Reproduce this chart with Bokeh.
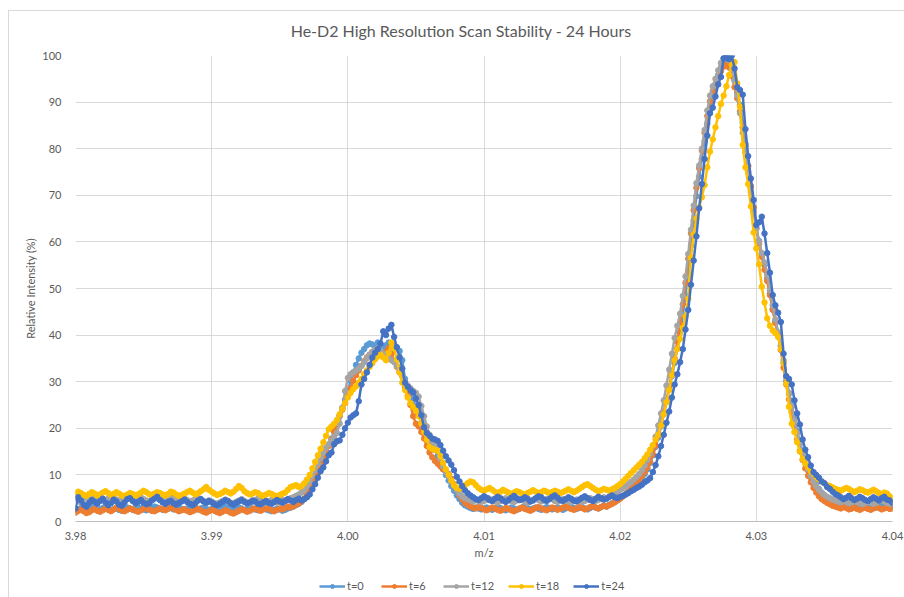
from bokeh.plotting import figure
from bokeh.layouts import column
from bokeh.models import (ColumnDataSource, FixedTicker, NumeralTickFormatter,
                          Legend, LegendItem, Range1d, Label)
from bokeh.embed import file_html
from bokeh.resources import INLINE

# m/z scan grid: 3.98 .. 4.04, step 0.0002
mz_start = 3.98
mz_step = 0.0002
n_points = 301
mz = [round(mz_start + mz_step * i, 4) for i in range(n_points)]

t0 = [
    2.4, 2.6, 2.9, 2.5, 2.3, 2.7, 3.0, 2.8, 2.5, 2.6,
    2.9, 3.1, 2.7, 2.4, 2.6, 2.8, 2.5, 2.3, 2.6, 3.0,
    2.8, 2.5, 2.7, 3.0, 2.9, 2.6, 2.4, 2.7, 2.9, 3.2,
    3.0, 2.7, 2.5, 2.8, 3.1, 2.9, 2.6, 2.8, 3.0, 2.7,
    2.5, 2.8, 3.1, 3.3, 2.9, 2.6, 2.8, 3.0, 2.7, 2.5,
    2.7, 3.0, 2.8, 2.6, 2.9, 3.2, 3.0, 2.7, 2.5, 2.8,
    3.0, 2.8, 2.5, 2.7, 3.0, 2.8, 2.6, 2.4, 2.7, 2.9,
    2.6, 2.4, 2.2, 2.5, 2.8, 2.6, 2.3, 2.5, 2.8, 3.0,
    3.2, 3.5, 3.8, 4.2, 4.8, 5.6, 6.8, 8.2, 9.6, 10.8,
    12.2, 13.6, 15.0, 16.4, 17.8, 19.2, 21.0, 22.8, 24.4, 26.2,
    28.0, 30.2, 32.0, 33.6, 35.0, 36.2, 37.0, 37.8, 38.2, 38.0,
    37.6, 38.4, 38.0, 37.2, 37.8, 38.4, 38.2, 37.6, 37.0, 36.6,
    34.6, 30.6, 29.0, 27.6, 26.0, 24.6, 23.2, 21.2, 19.6, 18.2,
    17.0, 16.2, 15.4, 14.0, 12.6, 11.2, 10.0, 8.8, 7.6, 6.6,
    5.6, 4.8, 4.0, 3.5, 3.2, 2.9, 2.7, 3.0, 2.8, 2.6,
    2.8, 3.0, 2.7, 2.5, 2.8, 3.1, 2.9, 2.6, 2.4, 2.7,
    3.0, 2.8, 2.5, 2.7, 3.0, 3.2, 2.9, 2.6, 2.8, 3.0,
    2.7, 2.5, 2.8, 3.1, 2.9, 2.6, 2.8, 3.0, 2.7, 2.5,
    2.8, 3.0, 3.2, 2.9, 2.7, 2.9, 3.1, 2.8, 2.6, 2.9,
    3.2, 3.0, 2.8, 3.1, 3.4, 3.2, 3.6, 3.9, 4.2, 4.6,
    5.0, 5.4, 5.9, 6.4, 6.9, 7.4, 8.0, 8.6, 9.4, 10.2,
    11.2, 12.6, 14.2, 16.0, 18.0, 20.4, 23.0, 25.6, 28.4, 31.2,
    34.0, 37.2, 40.6, 44.2, 48.6, 53.8, 59.2, 64.6, 69.8, 74.0,
    77.8, 81.6, 85.4, 88.4, 91.0, 93.6, 95.8, 97.4, 98.6, 99.4,
    98.8, 97.0, 94.8, 92.0, 89.4, 85.6, 81.0, 76.4, 72.0, 67.4,
    63.0, 60.2, 57.4, 55.0, 52.2, 49.0, 45.6, 43.0, 40.4, 37.6,
    34.0, 30.2, 27.4, 24.8, 22.0, 19.4, 17.0, 15.0, 13.2, 11.6,
    10.2, 9.0, 8.0, 7.0, 6.2, 5.4, 4.8, 4.3, 3.9, 3.6,
    3.4, 3.2, 3.5, 3.3, 3.0, 2.8, 3.1, 3.4, 3.2, 2.9,
    3.1, 3.4, 3.6, 3.3, 3.0, 3.2, 3.5, 3.3, 3.0, 2.8,
    3.2,
]

t6 = [
    1.9, 2.3, 2.6, 2.2, 1.8, 2.0, 2.4, 2.7, 2.3, 2.1,
    2.4, 2.8, 2.5, 2.2, 2.6, 3.0, 2.7, 2.4, 2.2, 2.5,
    2.8, 2.6, 2.3, 2.1, 2.4, 2.7, 2.9, 2.6, 2.3, 2.2,
    2.5, 2.8, 2.6, 2.4, 2.7, 3.0, 2.8, 2.5, 2.2, 2.4,
    2.6, 2.3, 2.0, 2.2, 2.5, 2.7, 2.4, 2.1, 1.9, 2.2,
    2.5, 2.3, 2.0, 1.8, 2.1, 2.4, 2.2, 1.9, 1.7, 2.0,
    2.3, 2.6, 2.4, 2.1, 2.3, 2.6, 2.8, 2.5, 2.3, 2.6,
    2.9, 2.7, 2.4, 2.2, 2.5, 2.8, 2.6, 2.9, 3.2, 3.0,
    3.3, 3.6, 3.9, 4.3, 4.9, 5.7, 6.6, 7.8, 9.0, 10.4,
    11.6, 13.0, 14.4, 16.2, 17.6, 19.4, 21.0, 22.6, 24.0, 25.4,
    27.0, 28.6, 30.2, 31.4, 32.4, 33.4, 34.4, 35.2, 35.8, 36.4,
    36.8, 37.0, 36.2, 35.6, 36.4, 37.2, 36.0, 34.4, 33.2, 32.0,
    31.2, 28.8, 27.0, 25.0, 22.6, 21.0, 20.4, 19.2, 17.8, 16.2,
    14.8, 13.8, 13.0, 12.4, 11.8, 11.2, 10.6, 10.2, 9.2, 8.0,
    6.8, 5.6, 4.8, 4.0, 3.6, 3.2, 3.0, 2.8, 3.1, 2.9,
    2.6, 2.4, 2.7, 3.0, 2.8, 2.5, 2.3, 2.6, 2.9, 2.7,
    2.4, 2.2, 2.5, 2.8, 3.0, 2.7, 2.5, 2.3, 2.6, 2.9,
    3.1, 2.8, 2.6, 2.4, 2.7, 3.0, 2.8, 2.5, 2.7, 3.0,
    3.2, 2.9, 2.7, 2.5, 2.8, 3.1, 2.9, 2.6, 2.8, 3.1,
    3.3, 3.0, 2.8, 3.1, 3.4, 3.2, 3.5, 3.8, 4.1, 4.5,
    4.9, 5.4, 5.8, 6.4, 7.0, 7.6, 8.2, 9.0, 9.8, 10.6,
    11.6, 12.8, 14.4, 16.2, 18.4, 20.8, 23.4, 26.0, 28.8, 31.8,
    35.0, 38.6, 42.4, 46.6, 51.2, 56.4, 61.8, 66.8, 71.6, 75.8,
    79.6, 83.4, 87.0, 90.2, 92.4, 93.8, 95.4, 96.6, 97.6, 98.0,
    97.4, 95.6, 93.2, 90.8, 88.0, 84.6, 80.6, 76.2, 71.8, 67.4,
    62.8, 59.6, 56.8, 54.0, 51.6, 48.6, 45.4, 42.6, 40.0, 36.8,
    33.0, 29.4, 26.2, 23.4, 20.4, 17.6, 15.2, 13.2, 11.4, 9.8,
    8.4, 7.2, 6.2, 5.4, 4.8, 4.4, 4.0, 3.7, 3.4, 3.2,
    3.0, 2.8, 3.1, 2.9, 2.6, 2.8, 3.0, 2.7, 2.5, 2.8,
    3.0, 2.7, 2.5, 2.8, 3.1, 2.9, 2.6, 2.8, 3.0, 2.7,
    2.8,
]

t12 = [
    5.2, 4.6, 4.0, 4.8, 5.4, 5.0, 4.6, 5.1, 5.5, 5.2,
    4.8, 4.5, 4.9, 5.3, 5.0, 4.7, 4.4, 4.8, 5.2, 5.5,
    5.1, 4.7, 4.5, 4.9, 5.2, 4.8, 4.5, 4.3, 4.7, 5.0,
    5.4, 5.1, 4.7, 4.4, 4.6, 5.0, 5.3, 4.9, 4.5, 4.7,
    5.0, 4.6, 4.3, 4.5, 4.8, 5.1, 4.8, 4.4, 4.2, 4.5,
    4.3, 4.0, 3.8, 4.1, 4.4, 4.7, 4.3, 4.0, 3.9, 4.2,
    4.5, 4.8, 4.4, 4.1, 3.9, 4.2, 4.6, 4.9, 4.5, 4.2,
    4.0, 4.3, 4.6, 4.4, 4.1, 4.3, 4.7, 4.5, 4.8, 5.0,
    5.2, 5.5, 5.8, 6.2, 6.8, 7.6, 8.6, 9.8, 11.0, 12.4,
    13.6, 14.8, 15.8, 16.6, 17.4, 18.2, 19.0, 21.0, 24.4, 28.0,
    30.8, 31.6, 32.0, 32.4, 32.8, 33.4, 34.2, 35.0, 35.8, 36.4,
    36.8, 37.2, 36.6, 36.0, 35.4, 35.0, 34.6, 34.2, 33.4, 32.4,
    31.2, 30.0, 29.2, 28.6, 28.0, 27.6, 26.8, 24.8, 22.6, 20.4,
    18.6, 17.2, 16.2, 15.0, 13.4, 11.8, 10.6, 9.6, 8.6, 7.6,
    6.8, 6.0, 5.4, 5.0, 4.8, 4.5, 4.3, 4.6, 4.4, 4.2,
    4.4, 4.7, 4.9, 4.6, 4.3, 4.1, 4.4, 4.8, 5.0, 4.7,
    4.4, 4.2, 4.5, 4.8, 4.6, 4.3, 4.0, 4.3, 4.7, 4.9,
    4.6, 4.3, 4.5, 4.8, 5.1, 4.8, 4.4, 4.2, 4.5, 4.8,
    4.6, 4.3, 4.1, 4.4, 4.7, 4.5, 4.2, 4.4, 4.8, 5.0,
    4.7, 4.4, 4.6, 4.9, 5.2, 5.0, 5.3, 5.7, 6.0, 6.4,
    6.8, 7.2, 7.6, 8.0, 8.5, 9.0, 9.6, 10.2, 11.0, 12.0,
    13.2, 14.6, 16.2, 18.2, 20.6, 23.2, 26.0, 29.2, 32.6, 36.0,
    39.4, 42.0, 44.6, 48.4, 52.6, 57.4, 62.6, 67.8, 72.6, 76.4,
    80.0, 84.0, 88.2, 91.4, 93.4, 95.0, 96.8, 98.4, 99.4, 100.0,
    99.0, 97.2, 94.6, 91.4, 87.6, 83.4, 79.2, 75.0, 70.6, 66.6,
    62.8, 60.0, 57.6, 55.6, 53.0, 49.6, 46.4, 43.4, 40.6, 37.8,
    34.6, 31.0, 27.6, 24.6, 21.6, 19.0, 16.6, 14.6, 12.8, 11.2,
    9.8, 8.6, 7.6, 6.8, 6.2, 5.7, 5.3, 5.0, 4.7, 4.5,
    4.3, 4.1, 4.4, 4.2, 3.9, 4.1, 4.4, 4.2, 3.9, 3.7,
    4.0, 4.3, 4.1, 3.8, 4.0, 4.4, 4.6, 4.3, 4.0, 3.8,
    4.2,
]

t18 = [
    6.0, 6.4, 6.1, 5.7, 5.5, 5.9, 6.3, 6.0, 5.6, 5.8,
    6.2, 6.5, 6.1, 5.7, 5.9, 6.3, 6.0, 5.6, 5.4, 5.8,
    6.1, 5.9, 5.5, 5.8, 6.2, 6.6, 6.3, 5.9, 5.6, 6.0,
    6.3, 6.1, 5.8, 5.6, 5.9, 6.4, 6.2, 5.8, 5.5, 5.7,
    6.0, 6.3, 6.6, 6.2, 5.8, 6.1, 6.5, 6.9, 7.4, 6.8,
    6.4, 6.0, 5.7, 5.9, 6.2, 6.6, 6.3, 6.0, 6.4, 7.0,
    7.6, 7.2, 6.5, 6.1, 5.8, 6.0, 6.3, 6.1, 5.7, 5.5,
    5.8, 6.1, 5.9, 5.6, 5.4, 5.7, 6.0, 6.2, 6.8, 7.4,
    7.6, 7.8, 7.4, 7.6, 8.2, 9.0, 10.0, 11.4, 12.8, 14.2,
    15.6, 17.0, 18.4, 19.8, 20.4, 21.0, 21.8, 23.0, 24.2, 25.4,
    26.6, 27.6, 28.4, 29.0, 29.8, 30.6, 31.6, 32.4, 33.2, 34.0,
    34.8, 35.4, 35.8, 35.2, 34.6, 36.2, 38.4, 37.2, 34.8, 32.0,
    29.8, 28.2, 26.6, 25.4, 24.6, 23.8, 22.6, 21.0, 19.2, 17.6,
    16.0, 15.6, 15.4, 15.2, 14.0, 12.6, 11.2, 10.0, 8.8, 7.8,
    7.2, 7.0, 7.4, 7.8, 8.2, 8.6, 8.4, 7.8, 7.2, 6.8,
    6.6, 6.9, 7.2, 6.8, 6.4, 6.1, 6.4, 6.8, 6.5, 6.2,
    5.9, 6.2, 6.5, 6.3, 6.0, 5.8, 6.1, 6.4, 6.7, 6.4,
    6.1, 6.3, 6.6, 6.4, 6.1, 6.3, 6.6, 6.4, 6.1, 6.3,
    6.6, 6.9, 6.6, 6.3, 6.6, 7.0, 7.4, 7.8, 8.0, 7.6,
    7.2, 6.8, 6.5, 6.7, 7.0, 6.8, 6.6, 6.9, 7.2, 7.6,
    8.0, 8.6, 9.2, 9.8, 10.4, 11.0, 11.6, 12.2, 12.8, 13.6,
    14.4, 15.4, 16.4, 17.6, 18.6, 20.6, 23.0, 25.6, 28.2, 31.4,
    34.6, 37.0, 39.2, 41.6, 44.0, 47.8, 56.6, 61.6, 65.0, 67.4,
    69.6, 72.2, 76.0, 79.4, 82.0, 84.6, 87.0, 89.6, 91.4, 93.4,
    95.8, 98.0, 98.6, 94.0, 89.0, 80.8, 76.0, 72.4, 67.6, 62.0,
    58.6, 55.2, 50.4, 47.0, 43.6, 42.0, 41.0, 40.4, 39.6, 37.0,
    34.0, 29.6, 24.6, 21.0, 19.2, 17.0, 15.0, 13.4, 12.4, 11.6,
    10.8, 10.2, 9.6, 9.0, 8.6, 8.2, 7.8, 7.6, 7.3, 7.0,
    6.8, 6.6, 6.9, 7.2, 7.0, 6.6, 6.3, 6.6, 6.9, 6.7,
    6.4, 6.2, 6.5, 6.8, 6.5, 6.1, 5.9, 6.2, 6.0, 5.4,
    5.0,
]

t24 = [
    2.8, 5.2, 4.5, 3.6, 3.2, 4.0, 4.6, 4.2, 3.8, 4.4,
    4.9, 4.1, 3.5, 3.9, 4.7, 4.3, 3.6, 3.4, 4.1, 4.8,
    5.0, 4.4, 3.9, 4.2, 4.6, 4.0, 3.7, 3.9, 4.5, 4.9,
    5.3, 4.6, 4.1, 3.8, 4.2, 4.4, 3.9, 3.6, 4.0, 4.3,
    4.7, 4.2, 3.8, 3.5, 3.9, 4.5, 4.8, 4.3, 4.0, 4.4,
    4.1, 3.7, 3.5, 3.8, 4.2, 4.6, 4.4, 3.9, 3.6, 4.0,
    4.3, 4.6, 4.2, 3.9, 4.1, 4.5, 4.3, 3.8, 3.7, 4.1,
    4.4, 4.0, 3.8, 4.2, 4.6, 4.3, 4.0, 4.4, 4.8, 4.5,
    4.2, 4.6, 4.9, 4.5, 4.8, 5.2, 5.8, 6.9, 8.0, 9.4,
    10.8, 11.6, 12.9, 14.2, 14.8, 16.6, 17.2, 17.4, 18.6, 20.0,
    21.2, 22.3, 22.8, 23.2, 25.8, 29.4, 30.6, 32.0, 33.6, 35.2,
    36.2, 37.0, 38.2, 40.8, 40.0, 41.4, 42.2, 39.6, 37.4, 35.2,
    32.8, 29.8, 28.9, 28.2, 27.7, 26.4, 25.0, 22.8, 20.2, 19.0,
    18.4, 17.8, 17.6, 17.3, 16.4, 15.2, 14.0, 13.1, 12.2, 11.0,
    9.6, 8.6, 7.6, 6.7, 6.1, 5.6, 5.2, 4.8, 4.6, 5.0,
    5.4, 5.1, 4.6, 4.4, 4.9, 5.3, 5.0, 4.5, 4.2, 4.6,
    5.1, 5.5, 5.0, 4.6, 4.8, 5.2, 4.9, 4.3, 4.5, 5.0,
    5.4, 5.2, 4.7, 4.4, 4.8, 5.3, 5.6, 5.1, 4.6, 4.4,
    4.8, 5.2, 4.9, 4.5, 4.3, 4.7, 5.1, 5.4, 5.0, 4.6,
    4.4, 4.9, 5.3, 5.0, 4.7, 4.9, 5.3, 5.6, 5.2, 5.0,
    5.3, 5.5, 5.8, 6.1, 6.5, 6.8, 7.2, 7.5, 7.9, 8.4,
    8.8, 9.3, 10.6, 12.1, 14.0, 16.2, 18.6, 21.2, 23.6, 26.6,
    29.4, 31.6, 34.2, 37.0, 41.2, 45.4, 50.8, 56.0, 61.2, 67.2,
    72.4, 77.8, 82.8, 87.6, 88.8, 91.2, 93.8, 95.4, 99.4, 100.0,
    99.2, 100.0, 97.2, 93.2, 92.6, 91.6, 84.2, 78.4, 73.6, 69.0,
    63.6, 64.2, 65.4, 61.8, 57.6, 53.4, 48.6, 46.4, 44.8, 42.8,
    36.0, 31.2, 30.6, 29.4, 26.0, 23.2, 20.8, 17.6, 15.4, 13.8,
    12.0, 10.6, 10.0, 9.4, 8.6, 8.2, 7.4, 7.0, 6.4, 5.9,
    5.6, 5.2, 4.8, 5.1, 5.5, 5.0, 4.6, 4.9, 5.3, 5.0,
    4.6, 4.4, 4.8, 5.2, 4.9, 4.5, 5.0, 5.3, 4.7, 4.5,
    4.0,
]

chart_title = "He-D2 High Resolution Scan Stability - 24 Hours"
series_names = ["t=0", "t=6", "t=12", "t=18", "t=24"]
series_values = [t0, t6, t12, t18, t24]
series_colors = ["#5B9BD5", "#ED7D31", "#A5A5A5", "#FFC000", "#4472C4"]
x_ticks = [3.98, 3.99, 4.00, 4.01, 4.02, 4.03, 4.04]
y_ticks = [0, 10, 20, 30, 40, 50, 60, 70, 80, 90, 100]

for s in series_values:
    assert len(s) == n_points, len(s)

FONT = "Lato"
GREY = "#595959"
LINE_W = 2.5
MARK_SIZE = 5.5
W = 896

# ---- title strip (its frame is aligned with the chart frame) ----------
tt = figure(width=W, height=37, output_backend="svg", toolbar_location=None,
            x_range=Range1d(0, 1), y_range=Range1d(0, 1),
            x_axis_location=None, y_axis_location=None,
            min_border_left=0, min_border_right=0, min_border_top=0,
            min_border_bottom=0)
tt.margin = (10, 0, 0, 8)
tt.styles = {"border-left": "1px solid #D9D9D9", "border-top": "1px solid #D9D9D9"}
tt.outline_line_color = None
tt.grid.visible = False
tt.add_layout(Label(x=0.472, y=0.48, text=chart_title, text_align="center",
                    text_baseline="middle", text_font=FONT,
                    text_font_size="16px", text_color=GREY))

# ---- main chart --------------------------------------------------------
p = figure(width=W, height=524, output_backend="svg", toolbar_location=None,
           x_range=Range1d(3.98, 4.04), y_range=Range1d(0, 100),
           min_border_left=66, min_border_right=13, min_border_top=8,
           min_border_bottom=50)
p.margin = (0, 0, 0, 8)
p.styles = {"border-left": "1px solid #D9D9D9"}
p.outline_line_color = None
p.background_fill_color = "white"
p.border_fill_color = "white"

sources = []
for name, vals, col in zip(series_names, series_values, series_colors):
    src = ColumnDataSource(dict(x=mz, y=vals))
    sources.append(src)
    p.line("x", "y", source=src, line_color=col, line_width=LINE_W)
    p.scatter("x", "y", source=src, marker="circle", size=MARK_SIZE,
              fill_color=col, line_color=col)

p.xaxis.ticker = FixedTicker(ticks=x_ticks)
p.xaxis.formatter = NumeralTickFormatter(format="0.00")
p.yaxis.ticker = FixedTicker(ticks=y_ticks)

for ax in (p.xaxis[0], p.yaxis[0]):
    ax.major_label_text_font = FONT
    ax.major_label_text_font_size = "11px"
    ax.major_label_text_color = GREY
    ax.axis_label_text_font = FONT
    ax.axis_label_text_font_size = "11px"
    ax.axis_label_text_color = GREY
    ax.axis_label_text_font_style = "normal"
    ax.major_tick_line_color = None
    ax.minor_tick_line_color = None

p.xaxis.axis_label = "m/z"
p.yaxis.axis_label = "Relative Intensity (%)"
p.xaxis.axis_line_color = "#BFBFBF"
p.yaxis.axis_line_color = None
p.xaxis.major_label_standoff = 4
p.xaxis.axis_label_standoff = 3
p.yaxis.major_label_standoff = 8
p.yaxis.axis_label_standoff = 2

p.xgrid.grid_line_color = "#D9D9D9"
p.ygrid.grid_line_color = "#D9D9D9"

# ---- legend strip (same data, drawn outside this strip's view) ---------
lg = figure(width=W, height=26, output_backend="svg", toolbar_location=None,
            x_range=Range1d(0, 1), y_range=Range1d(0, 1),
            x_axis_location=None, y_axis_location=None,
            min_border_left=0, min_border_right=0, min_border_top=0,
            min_border_bottom=0)
lg.margin = (0, 0, 0, 8)
lg.styles = {"border-left": "1px solid #D9D9D9"}
lg.outline_line_color = None
lg.grid.visible = False
items = []
for name, src, col in zip(series_names, sources, series_colors):
    r1 = lg.line("x", "y", source=src, line_color=col, line_width=LINE_W)
    r2 = lg.scatter("x", "y", source=src, marker="circle", size=MARK_SIZE,
                    fill_color=col, line_color=col)
    items.append(LegendItem(label=name, renderers=[r1, r2]))

legend = Legend(items=items, orientation="horizontal", location=(244, 5))
legend.label_text_font = FONT
legend.label_text_font_size = "11px"
legend.label_text_color = GREY
legend.border_line_color = None
legend.background_fill_alpha = 0
legend.glyph_width = 26
legend.glyph_height = 10
legend.label_standoff = 2
legend.spacing = 14
legend.padding = 2
legend.margin = 0
lg.add_layout(legend, "center")

layout = column(tt, p, lg, spacing=0)
open("out.html", "w").write(file_html(layout, INLINE))
